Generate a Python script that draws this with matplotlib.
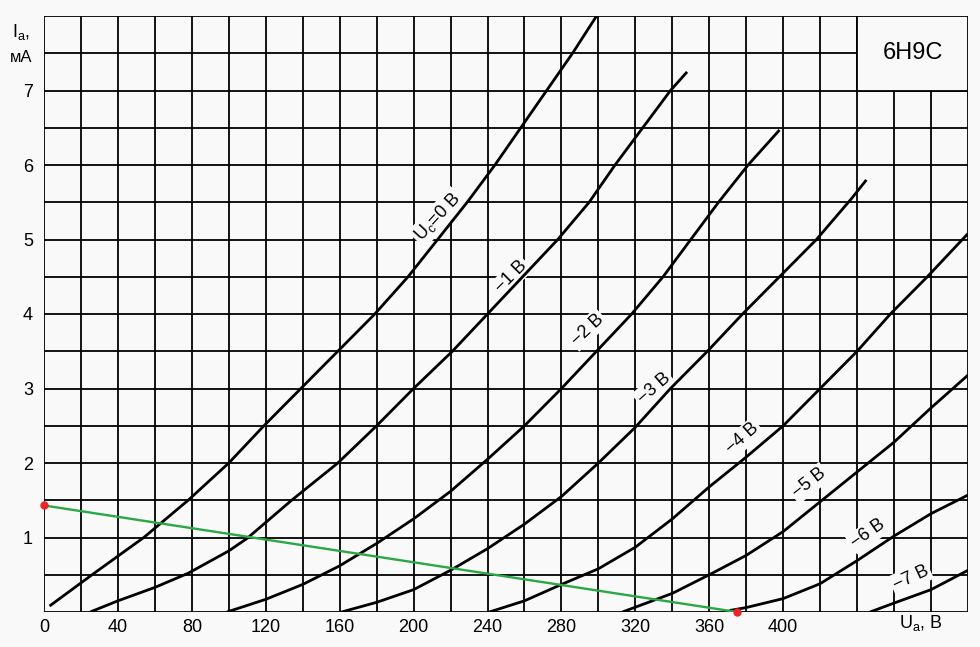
import numpy as np
import matplotlib.pyplot as plt
from matplotlib.patches import Rectangle

plt.rcParams['font.family'] = ['Liberation Sans', 'DejaVu Sans']
plt.rcParams['mathtext.fontset'] = 'custom'
plt.rcParams['mathtext.rm'] = 'Liberation Sans'
plt.rcParams['mathtext.it'] = 'Liberation Sans:italic'

# anode characteristics of 6N9S (Ua in V, Ia in mA)
u0_va = [3, 26, 54, 78, 100, 119, 139, 159, 179, 197, 213, 229, 244, 258, 272, 286, 299]
u0_ia = [0.08, 0.5, 1.0, 1.5, 2.0, 2.5, 3.0, 3.5, 4.0, 4.5, 5.0, 5.5, 6.0, 6.5, 7.0, 7.5, 8.0]

um1_va = [25, 40, 60, 78, 100, 110, 134, 159, 180, 200, 221, 240, 259, 278, 295, 309, 324, 339, 348]
um1_ia = [0.0, 0.15, 0.33, 0.52, 0.82, 0.99, 1.5, 2.0, 2.5, 3.0, 3.5, 4.0, 4.5, 5.0, 5.5, 6.0, 6.5, 7.0, 7.25]

um2_va = [99, 120, 140, 160, 180, 200, 220, 240, 260, 280, 299, 318, 335, 350, 365, 381, 398]
um2_ia = [0.0, 0.17, 0.37, 0.62, 0.92, 1.25, 1.62, 2.05, 2.5, 3.0, 3.5, 4.0, 4.5, 5.0, 5.5, 6.0, 6.47]

um3_va = [161, 180, 200, 220, 240, 260, 280, 300, 320, 339, 359, 378, 398, 418, 437, 445]
um3_ia = [0.0, 0.13, 0.3, 0.56, 0.85, 1.18, 1.55, 2.0, 2.48, 3.0, 3.5, 4.0, 4.5, 5.0, 5.55, 5.8]

um4_va = [241, 260, 280, 300, 320, 340, 360, 380, 400, 420, 440, 458, 478, 500]
um4_ia = [0.0, 0.15, 0.37, 0.58, 0.87, 1.25, 1.68, 2.08, 2.5, 3.0, 3.5, 4.0, 4.5, 5.08]

um5_va = [313, 340, 360, 380, 400, 420, 440, 460, 480, 500]
um5_ia = [0.0, 0.25, 0.5, 0.76, 1.08, 1.48, 1.88, 2.28, 2.74, 3.18]

um6_va = [371, 380, 400, 420, 440, 460, 480, 500]
um6_ia = [0.02, 0.06, 0.18, 0.38, 0.69, 1.02, 1.32, 1.57]

um7_va = [447, 460, 480, 500]
um7_ia = [0.0, 0.12, 0.3, 0.56]

curves = [(u0_va, u0_ia), (um1_va, um1_ia), (um2_va, um2_ia), (um3_va, um3_ia),
          (um4_va, um4_ia), (um5_va, um5_ia), (um6_va, um6_ia), (um7_va, um7_ia)]

# curve labels: text, Ua, Ia, angle
curve_labels = ['U$_\\mathrm{c}$=0 В', '−1 В', '−2 В', '−3 В', '−4 В', '−5 В', '−6 В', '−7 В']
label_va = [213, 253, 294, 330, 378, 414, 446, 469]
label_ia = [5.3, 4.5, 3.79, 3.0, 2.33, 1.73, 1.05, 0.46]
label_rot = [47, 45, 43, 41, 41, 38, 35, 25]

# load line
load_va = [0, 375]
load_ia = [1.43, 0.0]

x_ticks = [0, 40, 80, 120, 160, 200, 240, 280, 320, 360, 400]
y_ticks = [1, 2, 3, 4, 5, 6, 7]

bg = '#f9f9f9'
fig = plt.figure(figsize=(9.8, 6.47), dpi=100, facecolor=bg)
ax = fig.add_axes([44 / 980, 35 / 647, 924 / 980, 596 / 647], facecolor=bg)
ax.set_xlim(0, 500)
ax.set_ylim(0, 8)

for v in np.arange(0, 501, 20):
    ax.axvline(v, color='black', lw=1.3, zorder=1)
for i in np.arange(0, 8.01, 0.5):
    ax.axhline(i, color='black', lw=1.3, zorder=1)
for s in ax.spines.values():
    s.set_visible(False)

# type box in the top right corner
ax.add_patch(Rectangle((440, 7), 60, 1, facecolor=bg, edgecolor='black', lw=1.3, zorder=2))
ax.text(470, 7.5, '6Н9С', fontsize=17, ha='center', va='center', zorder=3)

for va, ia in curves:
    ax.plot(va, ia, color='black', lw=2.0, zorder=4, solid_capstyle='butt')

for txt, x, y, r in zip(curve_labels, label_va, label_ia, label_rot):
    ax.text(x, y, txt, fontsize=13, rotation=r, rotation_mode='anchor',
            ha='center', va='center', zorder=3,
            bbox=dict(facecolor=bg, edgecolor='none', pad=1.5))

ax.plot(load_va, load_ia, color='#2aa845', lw=1.7, zorder=5)
ax.plot(load_va, load_ia, 'o', color='#e8262a', ms=5, zorder=6, clip_on=False)

ax.set_xticks(x_ticks)
ax.set_xticklabels([str(v) for v in x_ticks])
ax.set_yticks(y_ticks)
ax.set_yticklabels([str(v) for v in y_ticks])
ax.tick_params(length=0, labelsize=13)
ax.tick_params(axis='x', pad=5)
ax.tick_params(axis='y', pad=8)

fig.text(21 / 980, 1 - 32 / 647, 'I$_\\mathrm{a}$,', fontsize=13, ha='center', va='center')
fig.text(21 / 980, 1 - 58 / 647, 'мА', fontsize=12, ha='center', va='center')
fig.text(921 / 980, 1 - 623 / 647, 'U$_\\mathrm{a}$, В', fontsize=13, ha='center', va='center')

fig.savefig('out.png', dpi=100, facecolor=bg)
